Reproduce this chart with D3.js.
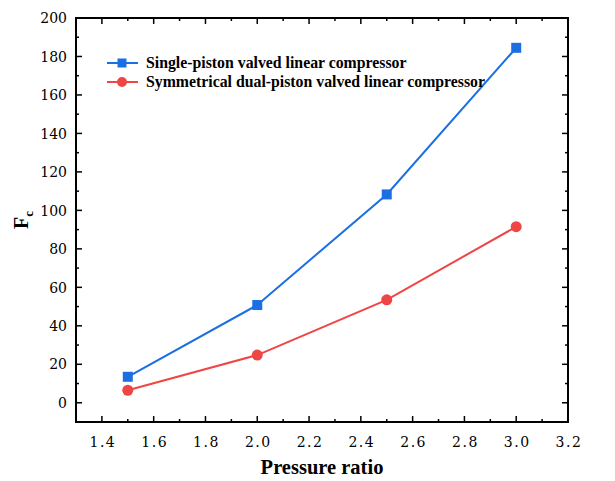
<!DOCTYPE html>
<html>
<head>
<meta charset="utf-8">
<script src="https://cdn.jsdelivr.net/npm/d3@7"></script>
<style>
  body { margin: 0; background: #fff; }
</style>
</head>
<body>
<svg id="chart"></svg>
<script>
const pressure = [1.5, 2.0, 2.5, 3.0];
const singlePiston = [13.5, 50.8, 108.3, 184.5];
const dualPiston = [6.5, 24.8, 53.5, 91.5];
const seriesNames = ["Single-piston valved linear compressor", "Symmetrical dual-piston valved linear compressor"];
const xTicks = [1.4, 1.6, 1.8, 2.0, 2.2, 2.4, 2.6, 2.8, 3.0, 3.2];
const yTicks = [0, 20, 40, 60, 80, 100, 120, 140, 160, 180, 200];

const width = 615, height = 481;
const margin = { left: 76, right: 47, top: 18, bottom: 59 };
const serif = "'Liberation Serif', 'Times New Roman', serif";
const tickFont = "'DejaVu Serif', serif";

const svg = d3.select("#chart").attr("width", width).attr("height", height)
  .attr("font-family", serif);

const x = d3.scaleLinear().domain([1.3, 3.2]).range([margin.left, width - margin.right]);
const y = d3.scaleLinear().domain([-10, 200]).range([height - margin.bottom, margin.top]);

const blue = "#1b6fe3", red = "#f04545";

// minor ticks
const xMinor = d3.range(1.3, 3.21, 0.1).map(d => +d.toFixed(2));
const yMinor = d3.range(-10, 201, 10);

const g = svg.append("g");
const pl = margin.left, pr = width - margin.right, pt = margin.top, pb = height - margin.bottom;

// ticks drawn inward on all four sides
xMinor.forEach(v => {
  const major = xTicks.some(t => Math.abs(t - v) < 1e-6);
  const len = major ? 6 : 3;
  g.append("line").attr("x1", x(v)).attr("x2", x(v)).attr("y1", pb).attr("y2", pb - len).attr("stroke", "#000").attr("stroke-width", 1.5);
  g.append("line").attr("x1", x(v)).attr("x2", x(v)).attr("y1", pt).attr("y2", pt + len).attr("stroke", "#000").attr("stroke-width", 1.5);
});
yMinor.forEach(v => {
  const major = yTicks.includes(v);
  const len = major ? 6 : 3;
  g.append("line").attr("y1", y(v)).attr("y2", y(v)).attr("x1", pl).attr("x2", pl + len).attr("stroke", "#000").attr("stroke-width", 1.5);
  g.append("line").attr("y1", y(v)).attr("y2", y(v)).attr("x1", pr).attr("x2", pr - len).attr("stroke", "#000").attr("stroke-width", 1.5);
});

g.append("rect").attr("x", pl).attr("y", pt).attr("width", pr - pl).attr("height", pb - pt)
  .attr("fill", "none").attr("stroke", "#000").attr("stroke-width", 2);

// tick labels
g.selectAll(".xl").data(xTicks).enter().append("text")
  .attr("x", d => x(d) + 1).attr("y", pb + 25)
  .attr("text-anchor", "middle").attr("font-family", tickFont).attr("font-size", 14).attr("letter-spacing", "1.5px")
  .text(d => d.toFixed(1));
g.selectAll(".yl").data(yTicks).enter().append("text")
  .attr("x", pl - 9).attr("y", d => y(d) + 5.2)
  .attr("text-anchor", "end").attr("font-family", tickFont).attr("font-size", 14)
  .text(d => d);

// axis titles
svg.append("text").attr("x", (pl + pr) / 2).attr("y", 474).attr("text-anchor", "middle")
  .attr("font-size", 20.5).attr("font-weight", "bold").text("Pressure ratio");
const yt = svg.append("text").attr("transform", `translate(28,${(pt + pb) / 2}) rotate(-90)`)
  .attr("text-anchor", "middle").attr("font-size", 20).attr("font-weight", "bold");
yt.append("tspan").text("F");
yt.append("tspan").attr("font-size", 13).attr("dy", 5).text("c");

// lines
const line = d3.line().x((d, i) => x(pressure[i])).y(d => y(d));
svg.append("path").datum(singlePiston).attr("d", line).attr("fill", "none").attr("stroke", blue).attr("stroke-width", 2);
svg.append("path").datum(dualPiston).attr("d", line).attr("fill", "none").attr("stroke", red).attr("stroke-width", 2);

svg.selectAll(".sq").data(singlePiston).enter().append("rect")
  .attr("x", (d, i) => x(pressure[i]) - 5).attr("y", d => y(d) - 5)
  .attr("width", 10).attr("height", 10).attr("fill", blue);
svg.selectAll(".ci").data(dualPiston).enter().append("circle")
  .attr("cx", (d, i) => x(pressure[i])).attr("cy", d => y(d)).attr("r", 5.5).attr("fill", red);

// legend
const lg = svg.append("g");
[[blue, "square"], [red, "circle"]].forEach(([c, shape], i) => {
  const ly = 63 + i * 19;
  lg.append("line").attr("x1", 107).attr("x2", 138).attr("y1", ly).attr("y2", ly).attr("stroke", c).attr("stroke-width", 2);
  if (shape === "square") lg.append("rect").attr("x", 117.5).attr("y", ly - 4.5).attr("width", 9).attr("height", 9).attr("fill", c);
  else lg.append("circle").attr("cx", 122).attr("cy", ly).attr("r", 5).attr("fill", c);
  lg.append("text").attr("x", 146).attr("y", ly + 5).attr("font-size", 15.8).attr("font-weight", "bold").text(seriesNames[i]);
});
</script>
</body>
</html>
